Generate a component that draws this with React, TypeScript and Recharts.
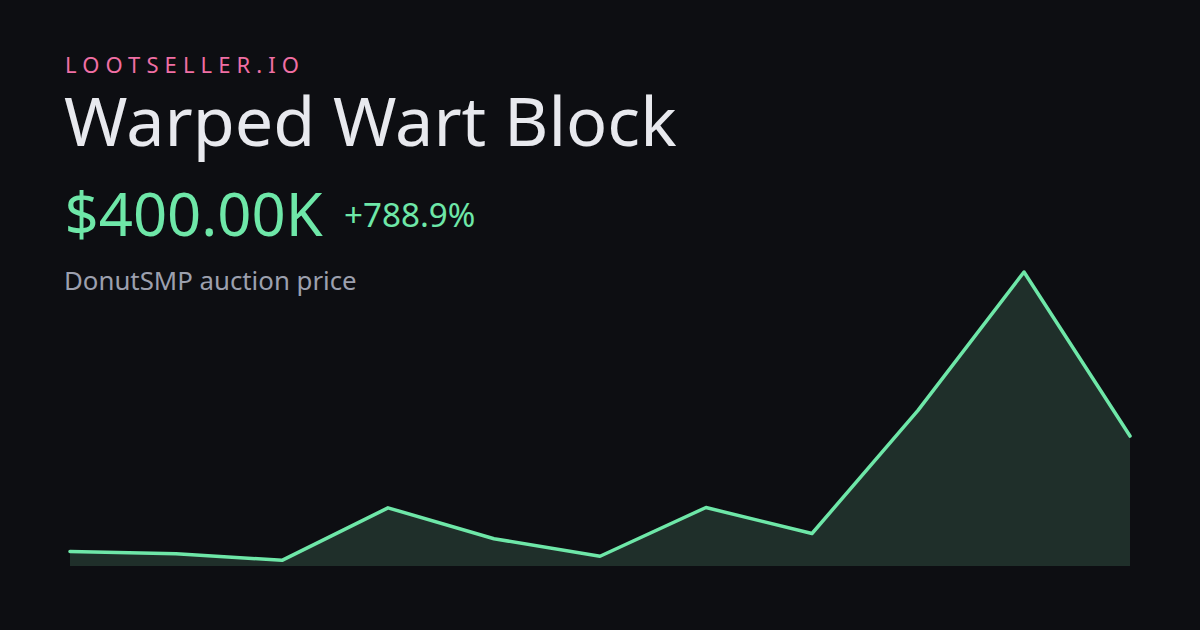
import React from "react";
import { AreaChart, Area, XAxis, YAxis } from "recharts";

const dates = ["d1", "d2", "d3", "d4", "d5", "d6", "d7", "d8", "d9", "d10", "d11"];
const prices = [45, 38, 17.5, 179, 84, 30, 180, 100, 479, 905, 400];

const brand = "LOOTSELLER.IO";
const title = "Warped Wart Block";
const priceLabel = "$400.00K";
const changeLabel = "+788.9%";
const subtitle = "DonutSMP auction price";

const data = dates.map((d, i) => ({ date: d, price: prices[i] }));

const BG = "#0d0e12";
const GREEN = "#6ee7a8";
const FILL = "#1f2f2a";
const FONT = "'Noto Sans', sans-serif";

export default function App() {
  return (
    <div
      style={{
        position: "fixed",
        left: 0,
        top: 0,
        width: 1200,
        height: 630,
        background: BG,
        overflow: "hidden",
      }}
    >
      <div style={{ position: "absolute", left: 0, top: 0 }}>
        <AreaChart
          width={1200}
          height={630}
          data={data}
          margin={{ top: 272, right: 70, bottom: 64, left: 70 }}
        >
          <XAxis dataKey="date" hide />
          <YAxis hide domain={[0, "dataMax"]} />
          <Area
            type="linear"
            dataKey="price"
            stroke={GREEN}
            strokeWidth={3.5}
            strokeLinecap="round"
            strokeLinejoin="round"
            fill={FILL}
            fillOpacity={1}
            isAnimationActive={false}
            dot={false}
            activeDot={false}
          />
        </AreaChart>
      </div>
      <svg
        width={1200}
        height={630}
        style={{ position: "absolute", left: 0, top: 0, pointerEvents: "none" }}
      >
        <text x={65} y={72.7} fill="#f06fa4" fontFamily={FONT} fontSize={22} letterSpacing={6.1}>
          {brand}
        </text>
        <text x={64} y={145.7} fill="#e8e9ee" fontFamily={FONT} fontSize={68.3}>
          {title}
        </text>
        <text x={64.5} y={235.7} fill={GREEN} fontFamily={FONT} fontSize={59.8}>
          {priceLabel}
        </text>
        <text x={344} y={226.7} fill={GREEN} fontFamily={FONT} fontSize={33.2}>
          {changeLabel}
        </text>
        <text x={64} y={290} fill="#9ca0ae" fontFamily={FONT} fontSize={25.8}>
          {subtitle}
        </text>
      </svg>
    </div>
  );
}
